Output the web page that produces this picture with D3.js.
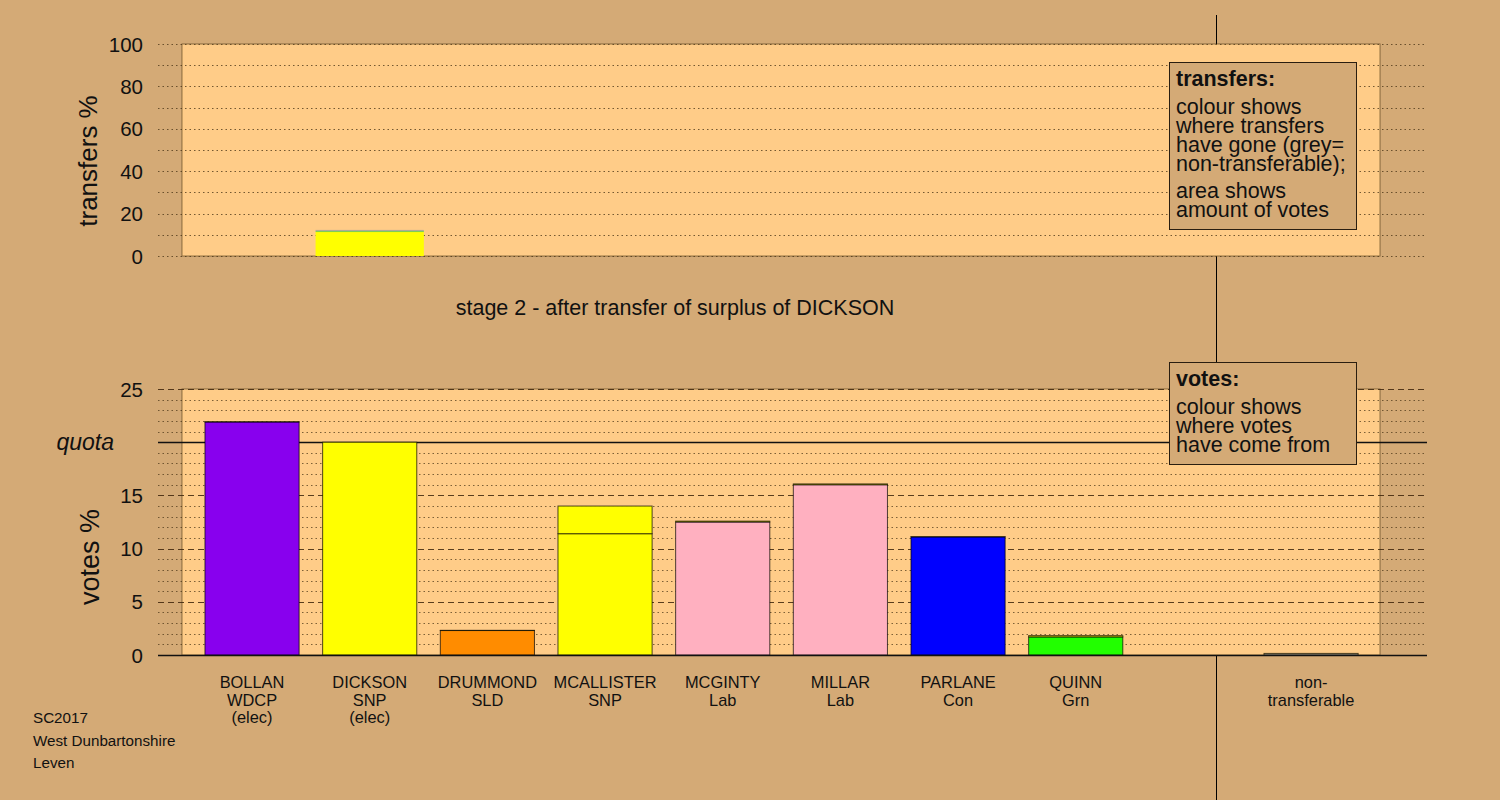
<!DOCTYPE html>
<html>
<head>
<meta charset="utf-8">
<script src="https://cdn.jsdelivr.net/npm/d3@7"></script>
<style>
  html, body { margin: 0; padding: 0; background: #D4AA76; }
  svg { display: block; font-family: "Liberation Sans", Arial, sans-serif; }
</style>
</head>
<body>
<svg id="chart" width="1500" height="800"></svg>
<script>
// ---------- data ----------
const candidates = ["BOLLAN", "DICKSON", "DRUMMOND", "MCALLISTER", "MCGINTY", "MILLAR", "PARLANE", "QUINN"];
const parties = ["WDCP", "SNP", "SLD", "SNP", "Lab", "Lab", "Con", "Grn"];
const status = ["(elec)", "(elec)", "", "", "", "", "", ""];
const partyColours = ["#8800EE", "#FFFF00", "#FF8C00", "#FFFF00", "#FFB0C0", "#FFB0C0", "#0000FF", "#22FF00"];
// votes % at stage 1 (own votes) and received from DICKSON surplus
const stage1Votes = [21.9, 20.0, 2.3, 11.4, 12.5, 16.0, 11.1, 1.7];
const fromDickson = [0.03, 0, 0.02, 2.6, 0.08, 0.08, 0.02, 0.12];
const nonTransferable = 0.15;
// transfers % of DICKSON's surplus (stacked: to MCALLISTER, to QUINN, non-transferable)
const transferSegments = [
  { label: "MCALLISTER", value: 11.3, colour: "#FFFF00" },
  { label: "QUINN", value: 0.6, colour: "#7FCC55" },
  { label: "non-transferable", value: 0.4, colour: "#A0A0A0" }
];
const transferFrom = "DICKSON";
const topTicks = [0, 20, 40, 60, 80, 100];
const bottomTicks = [0, 5, 10, 15, 25];
const quota = 20;
const title = "stage 2 - after transfer of surplus of DICKSON";
const footer = ["SC2017", "West Dunbartonshire", "Leven"];

// ---------- layout ----------
const svg = d3.select("#chart");
const W = 1500, H = 800;
const bg = "#D4AA76", plotBg = "#FFCC88";
const slots = d3.range(10);
const x = d3.scaleBand().domain(slots).range([193.2, 1369.9]).paddingInner(0.2).paddingOuter(0.1);
const yTop = d3.scaleLinear().domain([0, 100]).range([256, 44]);
const yBot = d3.scaleLinear().domain([0, 25]).range([655, 389]);
const gridX0 = 158, gridX1 = 1427;
const rectX0 = 182, rectX1 = 1380;

svg.append("rect").attr("width", W).attr("height", H).attr("fill", bg);

// vertical divider
svg.append("line").attr("x1", 1216.5).attr("x2", 1216.5).attr("y1", 15).attr("y2", 800)
  .attr("stroke", "#000").attr("stroke-width", 1);

// ---------- top panel ----------
const topG = svg.append("g");
topG.append("rect").attr("x", rectX0).attr("y", yTop(100)).attr("width", rectX1 - rectX0)
  .attr("height", yTop(0) - yTop(100)).attr("fill", plotBg)
  .attr("stroke", "rgba(60,40,10,0.55)").attr("stroke-width", 1);
topG.selectAll("line.grid").data(d3.range(0, 101, 10)).join("line")
  .attr("x1", gridX0).attr("x2", gridX1)
  .attr("y1", d => Math.round(yTop(d)) + 0.5).attr("y2", d => Math.round(yTop(d)) + 0.5)
  .attr("stroke", "rgba(70,50,20,0.75)").attr("stroke-width", 1).attr("stroke-dasharray", "1.5,3");

// transfer bar
const di = candidates.indexOf(transferFrom);
const tW = x.bandwidth() * 1.15;
const tX = x(di) + x.bandwidth() / 2 - tW / 2;
let acc = 0;
const tStack = transferSegments.map(s => { const o = { ...s, y0: acc, y1: acc + s.value }; acc += s.value; return o; });
topG.selectAll("rect.tr").data(tStack).join("rect")
  .attr("x", tX).attr("width", tW)
  .attr("y", d => yTop(d.y1)).attr("height", d => yTop(d.y0) - yTop(d.y1))
  .attr("fill", d => d.colour);

// top axis
const topAxis = d3.axisLeft(yTop).tickValues(topTicks).tickSize(0).tickPadding(0);
const gTopAxis = topG.append("g").attr("transform", "translate(143,0)").call(topAxis);
gTopAxis.select(".domain").remove();
gTopAxis.selectAll("text").attr("font-size", 20.5).attr("fill", "#111")
  .attr("font-family", "Liberation Sans, Arial, sans-serif").attr("dy", "0.35em");
svg.append("text").attr("transform", `translate(97,161) rotate(-90)`)
  .attr("text-anchor", "middle").attr("font-size", 26).attr("fill", "#111").text("transfers %");

// title
svg.append("text").attr("x", 675).attr("y", 315).attr("text-anchor", "middle")
  .attr("font-size", 21.5).attr("fill", "#111").text(title);

// ---------- bottom panel ----------
const botG = svg.append("g");
botG.append("rect").attr("x", rectX0).attr("y", yBot(25)).attr("width", rectX1 - rectX0)
  .attr("height", yBot(0) - yBot(25)).attr("fill", plotBg)
  .attr("stroke", "rgba(60,40,10,0.55)").attr("stroke-width", 1);
const minor = d3.range(1, 25).filter(v => v % 5 !== 0);
botG.selectAll("line.minor").data(minor).join("line")
  .attr("x1", gridX0).attr("x2", gridX1)
  .attr("y1", d => Math.round(yBot(d)) + 0.5).attr("y2", d => Math.round(yBot(d)) + 0.5)
  .attr("stroke", "rgba(70,50,20,0.7)").attr("stroke-width", 1).attr("stroke-dasharray", "1.5,3");
botG.selectAll("line.major").data([5, 10, 15, 25]).join("line")
  .attr("x1", gridX0).attr("x2", gridX1)
  .attr("y1", d => Math.round(yBot(d)) + 0.5).attr("y2", d => Math.round(yBot(d)) + 0.5)
  .attr("stroke", "rgba(60,35,10,0.85)").attr("stroke-width", 1.2).attr("stroke-dasharray", "6,4");
botG.append("line").attr("x1", gridX0).attr("x2", gridX1)
  .attr("y1", Math.round(yBot(quota)) + 0.5).attr("y2", Math.round(yBot(quota)) + 0.5)
  .attr("stroke", "#111").attr("stroke-width", 1.6);

// stacked vote bars
const barData = [];
candidates.forEach((c, i) => {
  barData.push({ i, y0: 0, y1: stage1Votes[i], colour: partyColours[i] });
  if (fromDickson[i] > 0) barData.push({ i, y0: stage1Votes[i], y1: stage1Votes[i] + fromDickson[i], colour: partyColours[di] });
});
botG.selectAll("rect.bar").data(barData).join("rect")
  .attr("x", d => x(d.i)).attr("width", x.bandwidth())
  .attr("y", d => yBot(d.y1)).attr("height", d => Math.max(0.1, yBot(d.y0) - yBot(d.y1)))
  .attr("fill", d => d.colour).attr("stroke", "rgba(0,0,0,0.7)").attr("stroke-width", 1);
// non-transferable
botG.append("rect").attr("x", x(9)).attr("width", x.bandwidth())
  .attr("y", yBot(nonTransferable)).attr("height", yBot(0) - yBot(nonTransferable))
  .attr("fill", "#A0A0A0").attr("stroke", "rgba(40,30,0,0.8)").attr("stroke-width", 1);

// baseline
botG.append("line").attr("x1", gridX0).attr("x2", gridX1).attr("y1", 655.5).attr("y2", 655.5)
  .attr("stroke", "#111").attr("stroke-width", 1.3);

// bottom axis
const botAxis = d3.axisLeft(yBot).tickValues(bottomTicks).tickSize(0).tickPadding(0);
const gBotAxis = botG.append("g").attr("transform", "translate(143,0)").call(botAxis);
gBotAxis.select(".domain").remove();
gBotAxis.selectAll("text").attr("font-size", 20.5).attr("fill", "#111")
  .attr("font-family", "Liberation Sans, Arial, sans-serif").attr("dy", "0.35em");
svg.append("text").attr("x", 114).attr("y", yBot(quota)).attr("dy", "0.35em")
  .attr("text-anchor", "end").attr("font-size", 23).attr("font-style", "italic").attr("fill", "#111").text("quota");
svg.append("text").attr("transform", `translate(99,557) rotate(-90)`)
  .attr("text-anchor", "middle").attr("font-size", 27).attr("fill", "#111").text("votes %");

// category labels
const labels = candidates.map((c, i) => ({ i, lines: [c, parties[i], status[i]].filter(s => s) }));
labels.push({ i: 9, lines: ["non-", "transferable"] });
const lg = svg.append("g");
labels.forEach(l => {
  const t = lg.append("text").attr("x", x(l.i) + x.bandwidth() / 2).attr("y", 688)
    .attr("text-anchor", "middle").attr("font-size", 16.4).attr("fill", "#111");
  l.lines.forEach((s, k) => t.append("tspan").attr("x", x(l.i) + x.bandwidth() / 2).attr("dy", k === 0 ? 0 : 17.5).text(s));
});

// footer
footer.forEach((s, k) => svg.append("text").attr("x", 33).attr("y", 723 + k * 22.5)
  .attr("font-size", 15.2).attr("fill", "#111").text(s));

// ---------- legends ----------
function legend(x0, y0, w, h, heading, blocks) {
  const g = svg.append("g");
  g.append("rect").attr("x", x0 + 0.5).attr("y", y0 + 0.5).attr("width", w).attr("height", h)
    .attr("fill", bg).attr("stroke", "#2a1e10").attr("stroke-width", 1);
  g.append("text").attr("x", x0 + 7).attr("y", y0 + 24).attr("font-size", 21.5).attr("font-weight", "bold")
    .attr("fill", "#111").text(heading);
  let yy = y0 + 52;
  blocks.forEach((b, bi) => {
    b.forEach(s => {
      g.append("text").attr("x", x0 + 7).attr("y", yy).attr("font-size", 21.5).attr("fill", "#111").text(s);
      yy += 19;
    });
    yy += 8;
  });
}
legend(1169, 62, 187, 167, "transfers:",
  [["colour shows", "where transfers", "have gone (grey=", "non-transferable);"], ["area shows", "amount of votes"]]);
legend(1169, 362, 187, 102, "votes:", [["colour shows", "where votes", "have come from"]]);
</script>
</body>
</html>
